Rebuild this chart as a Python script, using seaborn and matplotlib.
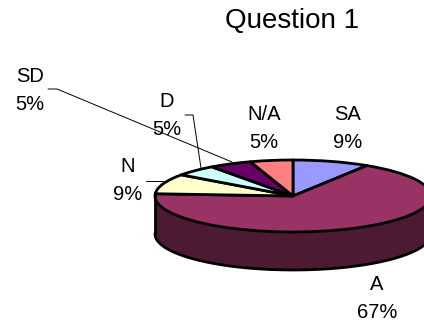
import numpy as np
import matplotlib
matplotlib.use("Agg")
import matplotlib.pyplot as plt
import seaborn as sns

categories = ["SA", "A", "N", "D", "SD", "N/A"]
percents = [9, 67, 9, 5, 5, 5]
slice_colors = ["#9999FF", "#993366", "#FFFFCC", "#CCFFFF", "#660066", "#FF8080"]
wall_color = "#4D1A33"
title = "Question 1"

W, H = 424, 325
CX, CY, RX, RY, DEPTH = 293, 196, 138, 36, 38
EDGE = 2.0

sns.set_theme(style="white")
plt.rcParams["font.family"] = ["Liberation Sans", "DejaVu Sans"]

fig = plt.figure(figsize=(W / 100, H / 100), dpi=100)
ax = fig.add_axes([0, 0, 1, 1])

# Top face: a regular pie squashed by the axes scale into an ellipse
ax.pie(percents, colors=slice_colors, startangle=90, counterclock=False,
       wedgeprops=dict(edgecolor="black", linewidth=EDGE, joinstyle="round"),
       frame=True)
ax.set_aspect("auto")
ax.set_xlim(-CX / RX, (W - CX) / RX)
ax.set_ylim((CY - H) / RY, CY / RY)
ax.axis("off")

# Side wall of the large slice, visible along the front half of the rim
depth = DEPTH / RY
start = np.deg2rad(percents[0] * 3.6)
end = np.deg2rad(sum(percents[:2]) * 3.6)
theta = np.linspace(start, end, 300)
x, y = np.sin(theta), np.cos(theta)
lower = y <= 0.03
ax.fill_between(x[lower], y[lower], y[lower] - depth, color=wall_color,
                linewidth=0, zorder=0.5)
ax.plot(x[lower], y[lower] - depth, color="black", lw=EDGE, zorder=3)
left_edge = x[lower].min()
ax.plot([left_edge, left_edge], [0.03, -depth + 0.03],
        color="black", lw=EDGE, zorder=3)


def px(xp, yp):
    return xp / W, 1 - yp / H


# Slice labels with their percentages
label_spots = {"SA": (348, 129), "A": (377, 299), "N": (128, 181),
               "D": (167, 115), "SD": (30, 90), "N/A": (264, 129)}
for name, pct in zip(categories, percents):
    lx, ly = label_spots[name]
    fig.text(*px(lx, ly), f"{name}\n{pct}%", ha="center", va="center",
             fontsize=14.5, color="black", linespacing=1.6)

fig.text(*px(292, 21), title, ha="center", va="center", fontsize=20, color="black")

# Leader lines from outlying labels to their slices
leaders = [
    [(48, 89), (57, 89), (232, 162)],
    [(185, 115), (193, 115), (201, 168)],
    [(146, 181), (163, 181)],
]
for path in leaders:
    pts = [px(*p) for p in path]
    fig.add_artist(plt.Line2D([p[0] for p in pts], [p[1] for p in pts],
                              color="black", lw=0.7))

fig.savefig("out.png", dpi=100, facecolor="white")
